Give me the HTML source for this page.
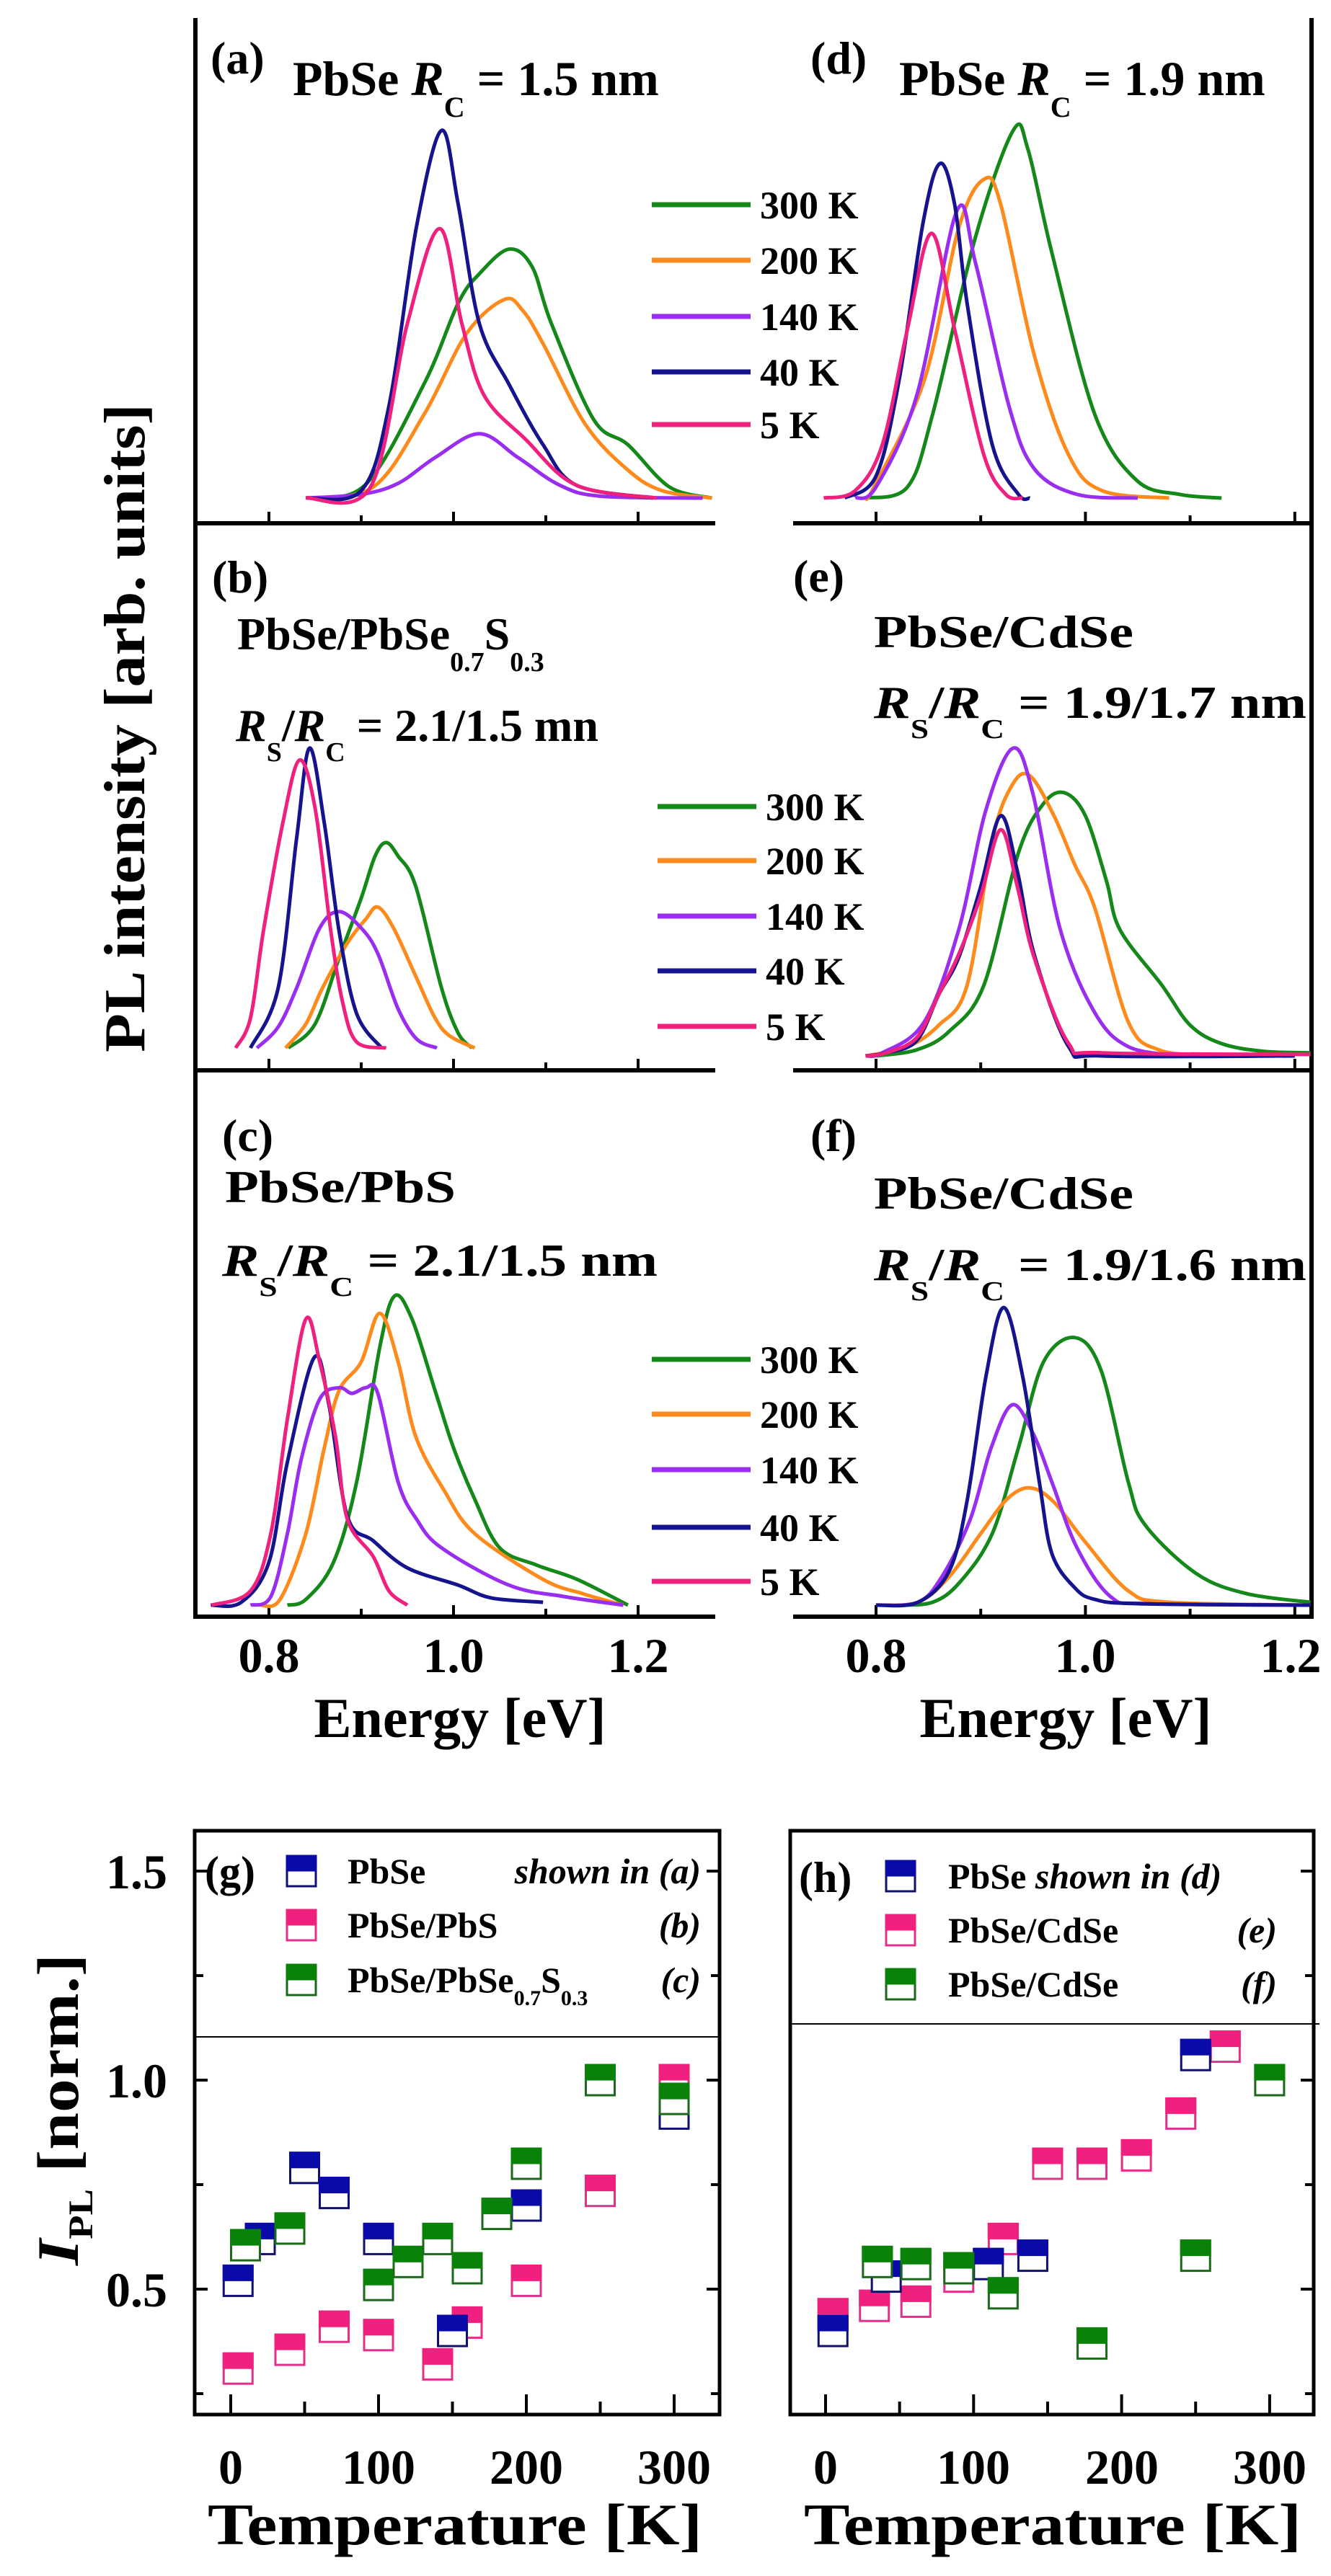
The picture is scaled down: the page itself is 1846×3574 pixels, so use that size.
<!DOCTYPE html>
<html><head><meta charset="utf-8">
<style>
html,body{margin:0;padding:0;background:#fff;}
svg{display:block;}
text{font-family:"Liberation Serif",serif;font-weight:bold;fill:#000;}
</style></head>
<body>
<svg id="fig" xmlns="http://www.w3.org/2000/svg" width="1846" height="3574" viewBox="0 0 1846 3574">
<rect x="0" y="0" width="1846" height="3574" fill="#fff"/>
<g stroke="#000" stroke-width="6" fill="none">
<line x1="271" y1="25" x2="271" y2="2246"/>
<line x1="1819" y1="25" x2="1819" y2="2246"/>
<line x1="268" y1="726" x2="992" y2="726"/>
<line x1="1100" y1="726" x2="1822" y2="726"/>
<line x1="268" y1="1485" x2="992" y2="1485"/>
<line x1="1100" y1="1485" x2="1822" y2="1485"/>
<line x1="268" y1="2243" x2="992" y2="2243"/>
<line x1="1100" y1="2243" x2="1822" y2="2243"/>
</g>
<g id="ticks" stroke="#000" stroke-width="4"></g>
<g id="curves" fill="none" stroke-width="5" stroke-linejoin="round"></g>

<g font-size="64">
<text x="292" y="102">(a)</text>
<text x="406" y="132" font-size="68">PbSe <tspan font-style="italic">R</tspan><tspan font-size="40" dy="30">C</tspan><tspan dy="-30"> = 1.5 nm</tspan></text>
<text x="1124" y="102">(d)</text>
<text x="1247" y="132" font-size="68">PbSe <tspan font-style="italic">R</tspan><tspan font-size="40" dy="30">C</tspan><tspan dy="-30"> = 1.9 nm</tspan></text>

<text x="294" y="822">(b)</text>
<text x="329" y="901">PbSe/PbSe<tspan font-size="38" dy="30">0.7</tspan><tspan dy="-30">S</tspan><tspan font-size="38" dy="30">0.3</tspan></text>
<text x="327" y="1028"><tspan font-style="italic">R</tspan><tspan font-size="38" dy="28">S</tspan><tspan dy="-28">/</tspan><tspan font-style="italic">R</tspan><tspan font-size="38" dy="28">C</tspan><tspan dy="-28"> = 2.1/1.5 mn</tspan></text>
<text x="1100" y="821">(e)</text>
<text x="1212" y="898" textLength="360" lengthAdjust="spacingAndGlyphs">PbSe/CdSe</text>
<text x="1212" y="996" textLength="600" lengthAdjust="spacingAndGlyphs"><tspan font-style="italic">R</tspan><tspan font-size="38" dy="28">S</tspan><tspan dy="-28">/</tspan><tspan font-style="italic">R</tspan><tspan font-size="38" dy="28">C</tspan><tspan dy="-28"> = 1.9/1.7 nm</tspan></text>

<text x="308" y="1597">(c)</text>
<text x="312" y="1668" textLength="320" lengthAdjust="spacingAndGlyphs">PbSe/PbS</text>
<text x="308" y="1770" textLength="604" lengthAdjust="spacingAndGlyphs"><tspan font-style="italic">R</tspan><tspan font-size="38" dy="28">S</tspan><tspan dy="-28">/</tspan><tspan font-style="italic">R</tspan><tspan font-size="38" dy="28">C</tspan><tspan dy="-28"> = 2.1/1.5 nm</tspan></text>
<text x="1124" y="1597">(f)</text>
<text x="1212" y="1677" textLength="360" lengthAdjust="spacingAndGlyphs">PbSe/CdSe</text>
<text x="1212" y="1776" textLength="600" lengthAdjust="spacingAndGlyphs"><tspan font-style="italic">R</tspan><tspan font-size="38" dy="28">S</tspan><tspan dy="-28">/</tspan><tspan font-style="italic">R</tspan><tspan font-size="38" dy="28">C</tspan><tspan dy="-28"> = 1.9/1.6 nm</tspan></text>
</g>

<text font-size="80" font-family="Liberation Sans" text-anchor="middle" transform="translate(200,1010) rotate(-90)" textLength="900" lengthAdjust="spacingAndGlyphs">PL intensity [arb. units]</text>

<g id="legends" font-size="54"></g>

<g font-size="68" text-anchor="middle">
<text x="373" y="2320">0.8</text>
<text x="629" y="2320">1.0</text>
<text x="885" y="2320">1.2</text>
<text x="1215" y="2320">0.8</text>
<text x="1505" y="2320">1.0</text>
<text x="1790" y="2320">1.2</text>
<text x="638" y="2410" font-size="78">Energy [eV]</text>
<text x="1478" y="2410" font-size="78">Energy [eV]</text>
</g>

<g stroke="#000" fill="none">
<rect x="270" y="2540" width="728" height="810" stroke-width="5"/>
<rect x="1096" y="2540" width="726" height="810" stroke-width="5"/>
<line x1="270" y1="2826" x2="998" y2="2826" stroke-width="2"/>
<line x1="1096" y1="2808" x2="1830" y2="2808" stroke-width="2"/>
</g>
<g id="sticks" stroke="#000" stroke-width="4"></g>
<g id="points"></g>
<g font-size="68">
<text x="232" y="2620" text-anchor="end">1.5</text>
<text x="232" y="2910" text-anchor="end">1.0</text>
<text x="232" y="3200" text-anchor="end">0.5</text>
<text x="320" y="3446" text-anchor="middle">0</text>
<text x="525" y="3446" text-anchor="middle">100</text>
<text x="730" y="3446" text-anchor="middle">200</text>
<text x="935" y="3446" text-anchor="middle">300</text>
<text x="1145" y="3446" text-anchor="middle">0</text>
<text x="1350" y="3446" text-anchor="middle">100</text>
<text x="1556" y="3446" text-anchor="middle">200</text>
<text x="1761" y="3446" text-anchor="middle">300</text>
<text x="631" y="3530" text-anchor="middle" font-size="82" textLength="686" lengthAdjust="spacingAndGlyphs">Temperature [K]</text>
<text x="1460" y="3530" text-anchor="middle" font-size="82" textLength="690" lengthAdjust="spacingAndGlyphs">Temperature [K]</text>
<text transform="translate(108,3143) rotate(-90)" font-size="82" textLength="432" lengthAdjust="spacingAndGlyphs"><tspan font-style="italic">I</tspan><tspan font-size="48" dy="20">PL</tspan><tspan dy="-20"> [norm.]</tspan></text>
<text x="284" y="2617" font-size="60">(g)</text>
<text x="1108" y="2625" font-size="60">(h)</text>
</g>
<g id="slegend" font-size="50"></g>
</svg>
<script>
const a300=[[0.84,0],[0.904,0.035],[0.968,0.31],[1.005,0.53],[1.028,0.61],[1.06,0.677],[1.085,0.63],[1.106,0.475],[1.152,0.213],[1.189,0.145],[1.234,0.03],[1.28,0]];
const a200=[[0.84,0],[0.913,0.03],[0.968,0.227],[1.014,0.447],[1.055,0.54],[1.075,0.51],[1.097,0.42],[1.143,0.2],[1.189,0.076],[1.226,0.02],[1.28,0]];
const a140=[[0.84,0],[0.90,0.01],[0.94,0.04],[0.98,0.11],[1.028,0.175],[1.07,0.11],[1.115,0.035],[1.16,0.005],[1.27,0]];
const a40=[[0.84,0],[0.90,0.02],[0.93,0.25],[0.96,0.74],[0.987,1.0],[1.005,0.8],[1.028,0.475],[1.06,0.31],[1.097,0.145],[1.133,0.035],[1.216,0]];
const a5=[[0.84,0],[0.91,0.03],[0.95,0.475],[0.985,0.733],[1.009,0.475],[1.033,0.28],[1.078,0.16],[1.133,0.035],[1.22,0]];
const d300=[[0.79,0],[0.83,0.03],[0.854,0.227],[0.895,0.71],[0.931,1.0],[0.945,0.95],[0.968,0.667],[1.009,0.227],[1.049,0.048],[1.09,0.01],[1.13,0]];
const d200=[[0.79,0],[0.798,0.03],[0.846,0.32],[0.879,0.735],[0.903,0.867],[0.919,0.80],[0.951,0.39],[0.984,0.117],[1.016,0.02],[1.08,0]];
const d140=[[0.78,0],[0.80,0.03],[0.839,0.28],[0.877,0.78],[0.895,0.64],[0.927,0.25],[0.951,0.08],[0.992,0.01],[1.05,0]];
const d40=[[0.77,0],[0.80,0.06],[0.822,0.32],[0.845,0.75],[0.861,0.91],[0.875,0.80],[0.887,0.53],[0.911,0.145],[0.936,0.01],[0.947,0]];
const d5=[[0.75,0],[0.78,0.02],[0.806,0.145],[0.83,0.46],[0.853,0.72],[0.875,0.46],[0.903,0.117],[0.924,0.01],[0.94,0]];
const b300=[[0.821,0],[0.85,0.08],[0.876,0.30],[0.90,0.5],[0.915,0.64],[0.927,0.685],[0.94,0.64],[0.959,0.54],[0.987,0.2],[1.005,0.05],[1.02,0]];
const b200=[[0.818,0],[0.84,0.08],[0.858,0.2],[0.885,0.35],[0.905,0.43],[0.918,0.47],[0.935,0.4],[0.959,0.24],[0.98,0.1],[0.996,0.04],[1.023,0]];
const b140=[[0.787,0],[0.81,0.07],[0.83,0.2],[0.855,0.4],[0.876,0.455],[0.90,0.4],[0.918,0.315],[0.94,0.13],[0.96,0.03],[0.982,0]];
const b40=[[0.78,0],[0.81,0.2],[0.83,0.7],[0.844,1.0],[0.86,0.75],[0.876,0.39],[0.895,0.115],[0.922,0]];
const b5=[[0.764,0],[0.78,0.1],[0.794,0.39],[0.815,0.75],[0.833,0.96],[0.85,0.8],[0.867,0.39],[0.88,0.15],[0.895,0.02],[0.927,0]];
const e300=[[0.80,0],[0.839,0.02],[0.87,0.08],[0.903,0.23],[0.936,0.66],[0.96,0.82],[0.98,0.855],[1.0,0.78],[1.02,0.57],[1.033,0.41],[1.073,0.23],[1.10,0.1],[1.13,0.04],[1.17,0.015],[1.215,0.01]];
const e200=[[0.79,0],[0.83,0.03],[0.86,0.1],[0.887,0.23],[0.911,0.7],[0.93,0.88],[0.947,0.91],[0.97,0.78],[0.99,0.62],[1.009,0.48],[1.041,0.11],[1.07,0.02],[1.12,0]];
const e140=[[0.79,0],[0.806,0.01],[0.846,0.11],[0.879,0.41],[0.905,0.8],[0.931,1.0],[0.95,0.85],[0.976,0.41],[1.009,0.14],[1.041,0.03],[1.09,0]];
const e40=[[0.79,0],[0.81,0.01],[0.839,0.05],[0.86,0.2],[0.879,0.32],[0.90,0.55],[0.919,0.78],[0.935,0.6],[0.951,0.33],[0.984,0.03],[1.016,0],[1.2,0]];
const e5=[[0.79,0],[0.81,0.01],[0.839,0.06],[0.86,0.2],[0.879,0.33],[0.90,0.52],[0.919,0.735],[0.935,0.55],[0.951,0.32],[0.984,0.04],[1.016,0.01],[1.215,0.005]];
const c300=[[0.82,0],[0.84,0.02],[0.87,0.15],[0.895,0.43],[0.92,0.9],[0.936,1.08],[0.955,1.0],[0.98,0.75],[1.0,0.55],[1.023,0.37],[1.05,0.2],[1.09,0.14],[1.134,0.09],[1.189,0]];
const c200=[[0.79,0],[0.812,0.02],[0.84,0.25],[0.86,0.55],[0.876,0.75],[0.90,0.85],[0.92,1.02],[0.94,0.85],[0.959,0.59],[0.99,0.4],[1.023,0.25],[1.097,0.09],[1.14,0.04],[1.184,0]];
const c140=[[0.78,0],[0.802,0.03],[0.82,0.25],[0.835,0.51],[0.855,0.72],[0.876,0.76],[0.89,0.74],[0.905,0.76],[0.918,0.74],[0.94,0.43],[0.96,0.3],[0.987,0.2],[1.06,0.07],[1.12,0.03],[1.184,0]];
const c40=[[0.737,0],[0.77,0.01],[0.80,0.15],[0.82,0.5],[0.849,0.865],[0.865,0.7],[0.885,0.31],[0.913,0.225],[0.95,0.13],[1.005,0.07],[1.041,0.025],[1.097,0.01]];
const c5=[[0.738,0],[0.78,0.05],[0.802,0.25],[0.82,0.65],[0.84,1.0],[0.855,0.85],[0.872,0.59],[0.885,0.30],[0.913,0.17],[0.93,0.05],[0.95,0]];
const f300=[[0.82,0],[0.854,0.01],[0.88,0.08],[0.911,0.25],[0.936,0.55],[0.96,0.85],[0.99,0.935],[1.015,0.82],[1.041,0.43],[1.057,0.28],[1.106,0.11],[1.154,0.04],[1.215,0.01]];
const f200=[[0.80,0],[0.84,0.01],[0.87,0.1],[0.90,0.25],[0.925,0.37],[0.947,0.41],[0.97,0.36],[1.0,0.22],[1.041,0.05],[1.08,0.01],[1.215,0]];
const f140=[[0.80,0],[0.84,0.01],[0.863,0.1],[0.89,0.3],[0.91,0.55],[0.93,0.70],[0.95,0.6],[0.968,0.43],[0.992,0.2],[1.024,0.03],[1.06,0.005],[1.215,0]];
const f40=[[0.80,0],[0.84,0.01],[0.87,0.12],[0.887,0.365],[0.905,0.8],[0.922,1.04],[0.94,0.8],[0.956,0.43],[0.968,0.18],[0.99,0.06],[1.009,0.02],[1.05,0.005],[1.215,0]];
const tempLabels=["300 K","200 K","140 K","40 K","5 K"];
const energyTicks=[0.8,0.9,1.0,1.1,1.2];

const gPbSeT=[5,20,50,70,100,150,200,300];
const gPbSeI=[0.52,0.62,0.79,0.73,0.62,0.40,0.70,0.92];
const gPbSTT=[5,40,70,100,140,160,200,250,300];
const gPbSI=[0.31,0.355,0.41,0.39,0.32,0.42,0.52,0.735,1.0];
const gAlloyT=[10,40,100,120,140,160,180,200,250,300];
const gAlloyI=[0.605,0.645,0.51,0.565,0.62,0.55,0.68,0.80,1.0,0.955];
const hPbSeT=[5,41,110,140,250];
const hPbSeI=[0.40,0.53,0.56,0.58,1.06];
const hCdSeAT=[5,33,61,90,120,150,180,210,240,270];
const hCdSeAI=[0.44,0.46,0.47,0.53,0.62,0.80,0.80,0.82,0.92,1.08];
const hCdSeBT=[35,61,90,120,180,250,300];
const hCdSeBI=[0.565,0.56,0.55,0.49,0.37,0.58,1.0];

const NS="http://www.w3.org/2000/svg";
const COL={g:"#15881a",o:"#ff8a1c",p:"#9a2ef0",b:"#15148e",k:"#f0207e"};
const MK={b:["#0a0aa8","#101070"],k:["#f0207e","#e0308a"],g:["#0a820a","#1a6a1a"]};
function xL(E){return 373+(E-0.8)*1280;}
function xR(E){return 1215+(E-0.8)*1452;}
function yScale(base,sc){return v=>base-v*sc;}
function el(tag,attrs,parent){const e=document.createElementNS(NS,tag);for(const k in attrs)e.setAttribute(k,attrs[k]);parent.appendChild(e);return e;}
function smooth(pts){
  let d="M"+pts[0][0].toFixed(1)+","+pts[0][1].toFixed(1);
  for(let i=0;i<pts.length-1;i++){
    const p0=pts[Math.max(0,i-1)],p1=pts[i],p2=pts[i+1],p3=pts[Math.min(pts.length-1,i+2)];
    const c1=[p1[0]+(p2[0]-p0[0])/6,p1[1]+(p2[1]-p0[1])/6];
    const c2=[p2[0]-(p3[0]-p1[0])/6,p2[1]-(p3[1]-p1[1])/6];
    d+=" C"+c1[0].toFixed(1)+","+c1[1].toFixed(1)+" "+c2[0].toFixed(1)+","+c2[1].toFixed(1)+" "+p2[0].toFixed(1)+","+p2[1].toFixed(1);
  }
  return d;
}
const curves=document.getElementById("curves");
const panels=[
 {id:"a",x:xL,y:yScale(691,510),s:[["300",a300,"g"],["200",a200,"o"],["140",a140,"p"],["40",a40,"b"],["5",a5,"k"]]},
 {id:"d",x:xR,y:yScale(691,510),s:[["300",d300,"g"],["200",d200,"o"],["140",d140,"p"],["40",d40,"b"],["5",d5,"k"]]},
 {id:"b",x:xL,y:yScale(1454,416),s:[["300",b300,"g"],["200",b200,"o"],["140",b140,"p"],["40",b40,"b"],["5",b5,"k"]]},
 {id:"e",x:xR,y:yScale(1465,427),s:[["300",e300,"g"],["200",e200,"o"],["140",e140,"p"],["40",e40,"b"],["5",e5,"k"]]},
 {id:"c",x:xL,y:yScale(2227,397),s:[["300",c300,"g"],["200",c200,"o"],["140",c140,"p"],["40",c40,"b"],["5",c5,"k"]]},
 {id:"f",x:xR,y:yScale(2227,397),s:[["300",f300,"g"],["200",f200,"o"],["140",f140,"p"],["40",f40,"b"]]}
];
panels.forEach(P=>{
  P.s.forEach(s=>{
    const pts=s[1].map(q=>[P.x(q[0]),P.y(q[1])]);
    const p=el("path",{d:smooth(pts),stroke:COL[s[2]]},curves);
    
    
  });
});
const ticks=document.getElementById("ticks");
[[xL,726],[xR,726],[xL,1485],[xR,1485],[xL,2243],[xR,2243]].forEach(a=>{
  energyTicks.forEach((E,i)=>{
    const len=(i%2===0)?16:11;
    const t=el("line",{x1:a[0](E),x2:a[0](E),y1:a[1],y2:a[1]-len},ticks);
    
    
  });
});
const leg=document.getElementById("legends");
const legCols=["g","o","p","b","k"];
[[904,[284,361,439,516,589]],[912,[1119,1194,1271,1347,1424]],[904,[1886,1962,2039,2119,2194]]].forEach((L,r)=>{
  tempLabels.forEach((lab,i)=>{
    const ln=el("line",{x1:L[0],x2:L[0]+137,y1:L[1][i],y2:L[1][i],stroke:COL[legCols[i]],"stroke-width":7},leg);
    
    
    const tx=el("text",{x:L[0]+150,y:L[1][i]+19},leg);
    tx.textContent=lab;
    
    
  });
});
function yI(v){return 2886-(v-1)*580;}
function xG(T){return 320+T*2.05;}
function xH(T){return 1145+T*2.053;}
const st=document.getElementById("sticks");
[1.5,1.25,1.0,0.75,0.5,0.25].forEach((v,i)=>{
  const len=(i%2===0)?18:12;
  [[270,1],[998,-1],[1822,-1]].forEach(a=>{
    const t=el("line",{x1:a[0],x2:a[0]+a[1]*len,y1:yI(v),y2:yI(v)},st);
    
    
  });
});
[0,50,100,150,200,250,300].forEach((T,i)=>{
  const len=(i%2===0)?28:18;
  [xG,xH].forEach(f=>{
    const t=el("line",{x1:f(T),x2:f(T),y1:3350,y2:3350-len},st);
    
    
  });
});
const pts=document.getElementById("points");
function marker(cx,cy,c,parent,name){
  const g=el("g",{},parent);
  
  
  el("rect",{x:cx-20,y:cy-21,width:40,height:42,fill:"#fff",stroke:MK[c][1],"stroke-width":3},g);
  el("rect",{x:cx-21.5,y:cy-22.5,width:43,height:23,fill:MK[c][0]},g);
  return g;
}
function series(Ts,Is,xf,c,name){Ts.forEach((T,i)=>marker(xf(T),yI(Is[i]),c,pts,name+'-'+T+'k'));}
series(gPbSTT,gPbSI,xG,"k","g-pbse-pbs");
series(gPbSeT,gPbSeI,xG,"b","g-pbse");
series(gAlloyT,gAlloyI,xG,"g","g-pbse-alloy");
series(hCdSeAT,hCdSeAI,xH,"k","h-pbse-cdse-e");
series(hPbSeT,hPbSeI,xH,"b","h-pbse");
series(hCdSeBT,hCdSeBI,xH,"g","h-pbse-cdse-f");
const sl=document.getElementById("slegend");
function stext(x,y,html,name,anchor){
  const t=el("text",{x:x,y:y},sl);
  if(anchor)t.setAttribute("text-anchor",anchor);
  t.innerHTML=html;
  
  
}
const gl=[2596,2671,2747];
marker(418,gl[0],"b",sl,"legend-marker-g-pbse");
marker(418,gl[1],"k",sl,"legend-marker-g-pbs");
marker(418,gl[2],"g",sl,"legend-marker-g-alloy");
stext(482,gl[0]+17,"PbSe","legend-text-g-pbse");
stext(482,gl[1]+17,"PbSe/PbS","legend-text-g-pbs");
stext(482,gl[2]+17,'PbSe/PbSe<tspan font-size="30" dy="18">0.7</tspan><tspan dy="-18">S</tspan><tspan font-size="30" dy="18">0.3</tspan>',"legend-text-g-alloy");
stext(972,gl[0]+17,'<tspan font-style="italic">shown in (a)</tspan>',"legend-ref-a","end");
stext(972,gl[1]+17,'<tspan font-style="italic">(b)</tspan>',"legend-ref-b","end");
stext(972,gl[2]+17,'<tspan font-style="italic">(c)</tspan>',"legend-ref-c","end");
const hl=[2603,2678,2753];
marker(1249,hl[0],"b",sl,"legend-marker-h-pbse");
marker(1249,hl[1],"k",sl,"legend-marker-h-cdse-e");
marker(1249,hl[2],"g",sl,"legend-marker-h-cdse-f");
stext(1315,hl[0]+17,'PbSe <tspan font-style="italic">shown in (d)</tspan>',"legend-text-h-pbse");
stext(1315,hl[1]+17,"PbSe/CdSe","legend-text-h-cdse-e");
stext(1315,hl[2]+17,"PbSe/CdSe","legend-text-h-cdse-f");
stext(1771,hl[1]+17,'<tspan font-style="italic">(e)</tspan>',"legend-ref-e","end");
stext(1771,hl[2]+17,'<tspan font-style="italic">(f)</tspan>',"legend-ref-f","end");
</script>
</body></html>
